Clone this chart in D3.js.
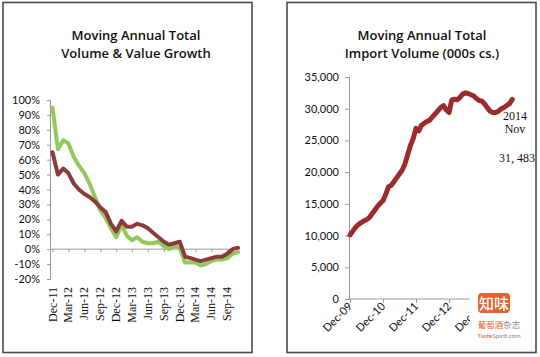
<!DOCTYPE html>
<html>
<head>
<meta charset="utf-8">
<script src="https://cdn.jsdelivr.net/npm/d3@7"></script>
<style>
  html, body { margin: 0; padding: 0; background: #fff; }
  svg { display: block; }
</style>
</head>
<body>
<svg id="chart" width="540" height="357"></svg>
<script>
// ---------- Data ----------
// Left chart: monthly MAT growth, Dec-11 .. Nov-14 (%)
const growthStart = new Date(2011, 11, 1);
const valueGrowth = [95, 67, 73, 71, 62, 56, 51, 44, 35, 26, 21, 14, 8, 16, 9, 6, 8, 5, 4, 4, 5, 2, 0, 2, 1, -9, -9, -9, -11, -10, -8, -7, -7, -6, -3, -2];
const volumeGrowth = [65, 50, 54, 51, 44, 40, 37, 35, 32, 28, 25, 17, 12, 19, 15, 15, 17, 16, 14, 11, 8, 5, 3, 4, 5, -5, -6, -7, -8, -7, -6, -5, -5, -3, 0, 1];
const growthTickLabels = ["Dec-11", "Mar-12", "Jun-12", "Sep-12", "Dec-12", "Mar-13", "Jun-13", "Sep-13", "Dec-13", "Mar-14", "Jun-14", "Sep-14"];
const growthYTicks = [-20, -10, 0, 10, 20, 30, 40, 50, 60, 70, 80, 90, 100];

// Right chart: MAT import volume (000s cs.), Dec-09 .. Nov-14
const volumeStart = new Date(2009, 11, 1);
const importVolume = [10100, 10700, 11300, 11700, 12000, 12300, 12500, 12800, 13400, 14000, 14600, 15100, 15500, 16500, 17700, 17900, 18500, 19100, 19700, 20300, 21300, 22800, 24200, 25300, 26900, 26500, 27400, 27700, 28000, 28200, 28700, 29200, 29700, 30200, 30500, 29800, 29400, 31400, 31500, 31400, 31800, 32300, 32500, 32400, 32200, 32000, 31600, 31300, 31200, 30700, 30100, 29600, 29400, 29400, 29600, 30000, 30200, 30500, 30800, 31483];
const volumeTickLabels = ["Dec-09", "Dec-10", "Dec-11", "Dec-12", "Dec-13"];
const volumeYTicks = [0, 5000, 10000, 15000, 20000, 25000, 30000, 35000];

// ---------- Drawing ----------
const svg = d3.select("#chart");
const monthOf = (start, i) => d3.timeMonth.offset(start, i);
const parseLabel = d3.timeParse("%b-%y");
const sans = "Lato, 'Open Sans', sans-serif";
const serif = "'Liberation Serif', 'DejaVu Serif', serif";

// panels
svg.append("rect").attr("x", 3).attr("y", 2.5).attr("width", 249).attr("height", 350)
  .attr("fill", "none").attr("stroke", "#4a4a4a").attr("stroke-width", 1.6);
svg.append("rect").attr("x", 287).attr("y", 2.5).attr("width", 249).attr("height", 350)
  .attr("fill", "none").attr("stroke", "#4a4a4a").attr("stroke-width", 1.6);

function title(cx, lines) {
  const t = svg.append("text").attr("text-anchor", "middle")
    .attr("font-family", "'Open Sans', sans-serif").attr("font-weight", 600)
    .attr("font-size", 13).attr("fill", "#111");
  lines.forEach((l, k) => t.append("tspan").attr("x", cx).attr("y", 40 + k * 17.5).text(l));
}
title(136, ["Moving Annual Total", "Volume & Value Growth"]);
title(422, ["Moving Annual Total", "Import Volume (000s cs.)"]);

// ---- Left chart ----
const xL = d3.scaleTime()
  .domain([growthStart, monthOf(growthStart, valueGrowth.length - 1)])
  .range([52.5, 238]);
const yL = d3.scaleLinear().domain([-20, 100]).range([279, 100]);

const gYL = svg.append("g").attr("transform", "translate(50,0)")
  .call(d3.axisLeft(yL).tickValues(growthYTicks).tickSize(3).tickFormat(d => d + "%"));
gYL.select(".domain").attr("stroke", "#9a9a9a");
gYL.selectAll(".tick line").attr("stroke", "#9a9a9a");
gYL.selectAll("text").attr("font-family", sans).attr("font-size", 11).attr("fill", "#111").attr("x", -10);

const gXL = svg.append("g").attr("transform", `translate(0,${yL(0)})`)
  .call(d3.axisBottom(xL).tickValues(growthTickLabels.map(parseLabel)).tickSize(3).tickFormat(""));
gXL.select(".domain").attr("stroke", "#9a9a9a").attr("d", `M50,0H240`);
gXL.selectAll(".tick line").attr("stroke", "#9a9a9a");

svg.append("g").selectAll("text").data(growthTickLabels).join("text")
  .attr("transform", d => `translate(${xL(parseLabel(d)) + 4},287) rotate(-90)`)
  .attr("text-anchor", "end").attr("font-family", serif).attr("font-size", 12).attr("fill", "#111")
  .text(d => d);

const lineL = d3.line().x((d, i) => xL(monthOf(growthStart, i))).y(d => yL(d)).curve(d3.curveLinear);
svg.append("path").datum(valueGrowth).attr("d", lineL)
  .attr("fill", "none").attr("stroke", "#93c95c").attr("stroke-width", 4).attr("stroke-linejoin", "round").attr("stroke-linecap", "round");
svg.append("path").datum(volumeGrowth).attr("d", lineL)
  .attr("fill", "none").attr("stroke", "#8a3b3b").attr("stroke-width", 4).attr("stroke-linejoin", "round").attr("stroke-linecap", "round");

// ---- Right chart ----
const xR = d3.scaleTime()
  .domain([volumeStart, parseLabel("Dec-13")])
  .range([350, 482]);
const yR = d3.scaleLinear().domain([0, 35000]).range([299, 77]);

const gYR = svg.append("g").attr("transform", "translate(349,0)")
  .call(d3.axisLeft(yR).tickValues(volumeYTicks).tickSize(4).tickFormat(d3.format(",")));
gYR.select(".domain").attr("stroke", "#9a9a9a");
gYR.selectAll(".tick line").attr("stroke", "#9a9a9a");
gYR.selectAll("text").attr("font-family", sans).attr("font-size", 11).attr("fill", "#111").attr("x", -10);

const gXR = svg.append("g").attr("transform", `translate(0,${yR(0)})`)
  .call(d3.axisBottom(xR).tickValues(volumeTickLabels.map(parseLabel)).tickSize(4).tickFormat(""));
gXR.select(".domain").attr("stroke", "#9a9a9a").attr("d", "M349,0H516");
gXR.selectAll(".tick line").attr("stroke", "#9a9a9a");

svg.append("g").selectAll("text").data(volumeTickLabels).join("text")
  .attr("transform", d => `translate(${xR(parseLabel(d)) + 3},${yR(0) + 8}) rotate(-45)`)
  .attr("text-anchor", "end").attr("font-family", sans).attr("font-size", 11).attr("fill", "#111")
  .text(d => d);

const lineR = d3.line().x((d, i) => xR(monthOf(volumeStart, i))).y(d => yR(d)).curve(d3.curveLinear);
svg.append("path").datum(importVolume).attr("d", lineR)
  .attr("fill", "none").attr("stroke", "#9d2b2c").attr("stroke-width", 5).attr("stroke-linejoin", "round").attr("stroke-linecap", "round");

// annotation
const lastIdx = importVolume.length - 1;
const ann = svg.append("g").attr("font-family", serif).attr("font-size", 12).attr("fill", "#111").attr("text-anchor", "middle");
ann.append("text").attr("x", 515).attr("y", 120).text(d3.timeFormat("%Y")(monthOf(volumeStart, lastIdx)));
ann.append("text").attr("x", 515).attr("y", 133).text(d3.timeFormat("%b")(monthOf(volumeStart, lastIdx)));
ann.append("text").attr("x", 517).attr("y", 162).text(d3.format(",")(importVolume[lastIdx]).replace(",", ", "));

// logo
const logo = svg.append("g");
logo.append("rect").attr("x", 470).attr("y", 289).attr("width", 58).attr("height", 54).attr("fill", "#fff");
logo.append("rect").attr("x", 478).attr("y", 293).attr("width", 32).attr("height", 20).attr("rx", 4).attr("fill", "#e5622d");
logo.append("text").attr("x", 494).attr("y", 309).attr("text-anchor", "middle")
  .attr("font-family", "'Noto Sans CJK SC', sans-serif").attr("font-size", 15).attr("font-weight", 500).attr("fill", "#fff")
  .text("知味");
const l2 = logo.append("text").attr("x", 499).attr("y", 328).attr("text-anchor", "middle")
  .attr("font-family", "'Noto Sans CJK SC', sans-serif").attr("font-size", 8.5);
l2.append("tspan").attr("fill", "#e5622d").text("葡萄酒");
l2.append("tspan").attr("fill", "#888").text("杂志");
const l3 = logo.append("text").attr("x", 499).attr("y", 338).attr("text-anchor", "middle")
  .attr("font-family", sans).attr("font-size", 6.5);
l3.append("tspan").attr("fill", "#e5622d").text("Taste");
l3.append("tspan").attr("fill", "#888").text("Spirit.com");
</script>
</body>
</html>
